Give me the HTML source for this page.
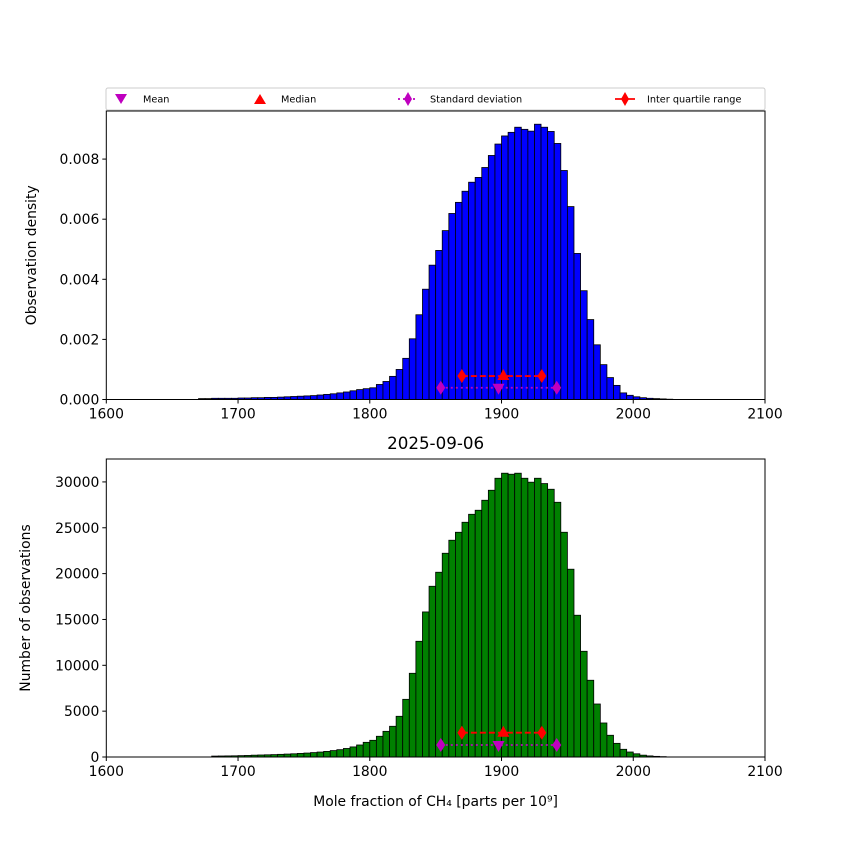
<!DOCTYPE html>
<html><head><meta charset="utf-8"><style>
body{margin:0;background:#fff}
svg{font-family:"DejaVu Sans","Liberation Sans",sans-serif;display:block}
</style></head><body>
<svg id="fig" width="850" height="850" xmlns="http://www.w3.org/2000/svg"></svg>
<script>
const binStarts = [1670,1675,1680,1685,1690,1695,1700,1705,1710,1715,1720,1725,1730,1735,1740,1745,1750,1755,1760,1765,1770,1775,1780,1785,1790,1795,1800,1805,1810,1815,1820,1825,1830,1835,1840,1845,1850,1855,1860,1865,1870,1875,1880,1885,1890,1895,1900,1905,1910,1915,1920,1925,1930,1935,1940,1945,1950,1955,1960,1965,1970,1975,1980,1985,1990,1995,2000,2005,2010,2015,2020,2025];
const densityValues = [0.00003,0.00003,0.00004,0.00004,0.00004,0.00004,0.00005,0.00005,0.00006,0.00006,0.00007,0.00007,0.00008,0.00009,0.0001,0.00011,0.00012,0.00013,0.00015,0.00017,0.00019,0.00022,0.00025,0.00029,0.00033,0.00036,0.00039,0.0005,0.0006,0.00077,0.001,0.00137,0.00202,0.00282,0.00367,0.00447,0.00496,0.00562,0.00619,0.00656,0.00693,0.00723,0.00739,0.00772,0.00812,0.0085,0.00877,0.00889,0.00906,0.00899,0.00893,0.00916,0.00906,0.00892,0.00852,0.00762,0.00642,0.00486,0.00362,0.00266,0.00182,0.00116,0.00073,0.00047,0.00022,0.00014,0.00009,0.00006,0.00004,0.00003,0.00002,0.00001];
const countValues = [0,0,100,110,120,130,150,170,200,220,240,260,290,320,350,390,430,480,540,610,700,800,930,1100,1310,1600,1820,2260,2800,3350,4440,6290,9130,12620,15820,18620,20150,22220,23640,24510,25600,26470,26910,28000,29090,30400,30950,30840,30950,30400,29970,30400,29820,29200,27780,24510,20480,15460,11530,8370,5780,3710,2370,1490,840,545,350,200,120,70,40,0];
const binWidth = 5;
const statsX = {mean:1897.7, median:1901.4, q1:1869.9, q3:1930.6, sdLo:1853.9, sdHi:1941.9};
const topMarkerY = {iqr:0.00078, sd:0.00039};
const botMarkerY = {iqr:2650, sd:1310};
const xTicks = [1600,1700,1800,1900,2000,2100];
const topYTicks = [0,0.002,0.004,0.006,0.008];
const topYLabels = ["0.000","0.002","0.004","0.006","0.008"];
const botYTicks = [0,5000,10000,15000,20000,25000,30000];

const NS="http://www.w3.org/2000/svg";
const svg=document.getElementById('fig');
function mk(tag,attrs,parent){const e=document.createElementNS(NS,tag);for(const k in attrs)e.setAttribute(k,attrs[k]);(parent||svg).appendChild(e);return e;}
const L=106.3,R=765;
const xs=v=>L+(v-1600)/(2100-1600)*(R-L);

function panel(top,bottom,ymax,vals,color,yTicks,yLabels,ylabel,mk2,name){
  const ys=v=>bottom-v/ymax*(bottom-top);
  const g=mk('g',{});
  
  
  for(let i=0;i<binStarts.length;i++){
    if(vals[i]<=0)continue;
    const x0=xs(binStarts[i]),x1=xs(binStarts[i]+binWidth),y=ys(vals[i]);
    const r=mk('rect',{x:x0,y:y,width:x1-x0,height:bottom-y,fill:color,stroke:'#000','stroke-width':0.8},g);
    
    
  }
  const yi=ys(mk2.iqr), ysd=ys(mk2.sd);
  let l=mk('line',{x1:xs(statsX.q1),x2:xs(statsX.q3),y1:yi,y2:yi,stroke:'red','stroke-width':1.8,'stroke-dasharray':'6,3'},g);
  
  
  l=mk('line',{x1:xs(statsX.sdLo),x2:xs(statsX.sdHi),y1:ysd,y2:ysd,stroke:'#bf00bf','stroke-width':1.8,'stroke-dasharray':'2,3'},g);
  
  
  const dia=(x,y,c,n)=>{const p=mk('path',{d:`M${x},${y-7}L${x+4.5},${y}L${x},${y+7}L${x-4.5},${y}Z`,fill:c},g);
    
    };
  dia(xs(statsX.q1),yi,'red','iqr-marker');dia(xs(statsX.q3),yi,'red','iqr-marker');
  dia(xs(statsX.sdLo),ysd,'#bf00bf','std-marker');dia(xs(statsX.sdHi),ysd,'#bf00bf','std-marker');
  let m=mk('path',{d:`M${xs(statsX.median)},${yi-7}L${xs(statsX.median)+6},${yi+4}L${xs(statsX.median)-6},${yi+4}Z`,fill:'red'},g);
  
  
  m=mk('path',{d:`M${xs(statsX.mean)-6},${ysd-4}L${xs(statsX.mean)+6},${ysd-4}L${xs(statsX.mean)},${ysd+7}Z`,fill:'#bf00bf'},g);
  
  
  mk('rect',{x:L,y:top,width:R-L,height:bottom-top,fill:'none',stroke:'#000','stroke-width':1},g);
  xTicks.forEach(t=>{const x=xs(t);mk('line',{x1:x,x2:x,y1:bottom,y2:bottom+4,stroke:'#000'},g);
    const tx=mk('text',{x:x,y:bottom+19,'text-anchor':'middle','font-size':13.9},g);tx.textContent=t;
    
    });
  yTicks.forEach((t,i)=>{const y=ys(t);mk('line',{x1:L-4,x2:L,y1:y,y2:y,stroke:'#000'},g);
    const tx=mk('text',{x:L-7,y:y+5,'text-anchor':'end','font-size':13.9},g);tx.textContent=yLabels[i];
    
    });
  const yl=mk('text',{x:0,y:0,'text-anchor':'middle','font-size':13.9,transform:`translate(${name==='top-panel'?36:30},${(top+bottom)/2}) rotate(-90)`},g);
  yl.textContent=ylabel;
  
  
}
panel(111,399.5,0.0096,densityValues,'#0000ff',topYTicks,topYLabels,'Observation density',topMarkerY,'top-panel');
panel(459,757,32500,countValues,'#008000',botYTicks,botYTicks.map(String),'Number of observations',botMarkerY,'bottom-panel');

let t=mk('text',{x:435.6,y:449,'text-anchor':'middle','font-size':16.7});t.textContent='2025-09-06';


t=mk('text',{x:435.6,y:806,'text-anchor':'middle','font-size':13.9});t.textContent='Mole fraction of CH₄ [parts per 10⁹]';



const lg=mk('g',{});


mk('rect',{x:106,y:88,width:659,height:22,rx:2,fill:'#fff',stroke:'#ccc'},lg);
const ly=99;
mk('path',{d:`M${115},${ly-5}L${127},${ly-5}L${121},${ly+5}Z`,fill:'#bf00bf'},lg);
mk('path',{d:`M${260},${ly-5}L${266},${ly+5}L${254},${ly+5}Z`,fill:'red'},lg);
mk('line',{x1:398,x2:418,y1:ly,y2:ly,stroke:'#bf00bf','stroke-width':1.8,'stroke-dasharray':'2,3'},lg);
mk('path',{d:`M408,${ly-7}L412,${ly}L408,${ly+7}L404,${ly}Z`,fill:'#bf00bf'},lg);
mk('line',{x1:615,x2:635,y1:ly,y2:ly,stroke:'red','stroke-width':1.8},lg);
mk('path',{d:`M625,${ly-7}L629,${ly}L625,${ly+7}L621,${ly}Z`,fill:'red'},lg);
[['Mean',143],['Median',281],['Standard deviation',430],['Inter quartile range',647]].forEach(([s,x])=>{
  const e=mk('text',{x:x,y:ly+3.5,'font-size':9.7},lg);e.textContent=s;
  
  
});
</script>
</body></html>
